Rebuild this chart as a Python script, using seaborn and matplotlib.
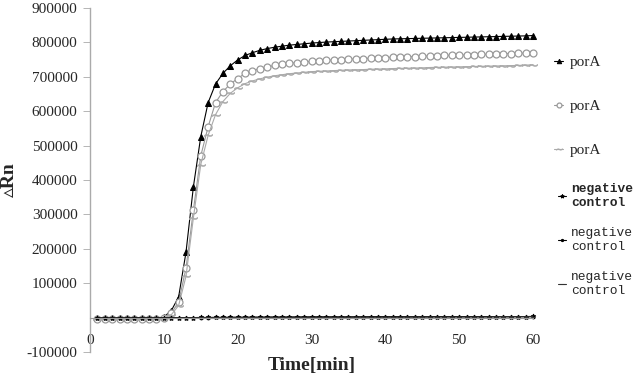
import matplotlib
matplotlib.use('Agg')
import matplotlib.pyplot as plt
import seaborn as sns
import pandas as pd

# Data (minutes 1..60, one cycle per minute)
minutes = list(range(1, 61))

pora_1 = [-2000, -2500, -2000, -2500, -2000, -2000, -2500, -2000, -1500, 2000,
          20000, 60000, 190000, 380000, 526000, 625000, 679000, 710000, 732000, 749000,
          762000, 770000, 777000, 782000, 786000, 789000, 792000, 794000, 796000, 798000,
          799500, 801000, 802000, 803000, 804000, 805000, 806000, 807000, 808000, 809000,
          810000, 810500, 811000, 811500, 812000, 812500, 813000, 813500, 814000, 814500,
          815000, 815500, 816000, 816500, 817000, 817500, 818000, 818500, 819000, 820000]

pora_2 = [-3000, -3000, -3500, -3000, -3000, -3500, -3000, -3000, -3000, -1000,
          12000, 46000, 143000, 312000, 470000, 555000, 625000, 657000, 679000, 695000,
          710000, 718000, 724000, 729000, 733000, 736000, 739000, 741000, 743000, 745000,
          746500, 748000, 749000, 750000, 751000, 752000, 753000, 754000, 755000, 756000,
          757000, 757500, 758000, 759000, 760000, 760500, 761000, 762000, 762500, 763000,
          763500, 764000, 765000, 765500, 766000, 767000, 767500, 768000, 769000, 770000]

pora_3 = [-4000, -4000, -3500, -4000, -4000, -3500, -4000, -4000, -3500, -2000,
          8000, 35000, 120000, 290000, 445000, 530000, 590000, 628000, 652000, 668000,
          680000, 688000, 694000, 699000, 703000, 706000, 709000, 711000, 713000, 715000,
          716000, 717000, 718000, 719000, 720000, 720500, 721000, 722000, 722500, 723000,
          724000, 724500, 725000, 725500, 726000, 727000, 727500, 728000, 728500, 729000,
          729500, 730000, 730500, 731000, 731500, 732000, 732500, 733000, 734000, 735000]

neg_1 = [-1000, -1000, -1500, -1000, -1000, -1000, -500, -1000, -500, -500,
         -500, 0, 0, 0, 500, 500, 500, 500, 1000, 1000,
         1000, 1000, 1000, 1500, 1500, 1500, 1500, 1500, 1500, 2000,
         2000, 2000, 2000, 2000, 2000, 2000, 2000, 2500, 2500, 2500,
         2500, 2500, 2500, 2500, 2500, 2500, 3000, 3000, 3000, 3000,
         3000, 3000, 3000, 3000, 3000, 3000, 3000, 3000, 3000, 3500]

neg_2 = [-1500, -1500, -1500, -1000, -1500, -1000, -1000, -1000, -1000, -500,
         -500, -500, 0, 0, 0, 0, 500, 500, 500, 500,
         500, 1000, 1000, 1000, 1000, 1000, 1000, 1500, 1500, 1500,
         1500, 1500, 1500, 1500, 1500, 2000, 2000, 2000, 2000, 2000,
         2000, 2000, 2000, 2000, 2000, 2500, 2500, 2500, 2500, 2500,
         2500, 2500, 2500, 2500, 2500, 2500, 2500, 3000, 3000, 3000]

neg_3 = [-2000, -2000, -1500, -1500, -1500, -1500, -1500, -1000, -1000, -1000,
         -1000, -500, -500, -500, 0, 0, 0, 0, 0, 500,
         500, 500, 500, 500, 500, 1000, 1000, 1000, 1000, 1000,
         1000, 1000, 1000, 1500, 1500, 1500, 1500, 1500, 1500, 1500,
         1500, 1500, 2000, 2000, 2000, 2000, 2000, 2000, 2000, 2000,
         2000, 2000, 2000, 2000, 2500, 2500, 2500, 2500, 2500, 2500]

x_ticks = [0, 10, 20, 30, 40, 50, 60]
y_ticks = [-100000, 100000, 200000, 300000, 400000, 500000, 600000, 700000, 800000, 900000]

sns.set_style('white')
plt.rcParams['font.family'] = ['Liberation Serif', 'DejaVu Sans']

fig = plt.figure(figsize=(6.38, 3.81), dpi=100)
ax = fig.add_axes([0.1411, 0.0761, 0.6943, 0.9029])

df = pd.DataFrame({'t': minutes, 'a': pora_1, 'b': pora_2, 'c': pora_3,
                   'n1': neg_1, 'n2': neg_2, 'n3': neg_3})

styles = [
    ('a', dict(color='black', lw=0.8, marker='^', markersize=4.5,
               markerfacecolor='black', markeredgecolor='black')),
    ('b', dict(color='#999999', lw=0.8, marker='o', markersize=5,
               markerfacecolor='white', markeredgecolor='#999999', markeredgewidth=0.9)),
    ('c', dict(color='#aaaaaa', lw=0.8, marker=r'$\sim$', markersize=6,
               markerfacecolor='#aaaaaa', markeredgecolor='#aaaaaa', markeredgewidth=0.4)),
    ('n1', dict(color='black', lw=0.8, marker='*', markersize=3.5,
                markerfacecolor='black', markeredgecolor='black')),
    ('n2', dict(color='black', lw=0.8, marker='o', markersize=2,
                markerfacecolor='black', markeredgecolor='black')),
    ('n3', dict(color='#333333', lw=0.8, marker='_', markersize=3,
                markeredgecolor='#333333')),
]

handles = []
for col, kw in styles:
    sns.lineplot(data=df, x='t', y=col, ax=ax, clip_on=False, **kw)
    handles.append(ax.lines[-1])

ax.set_xlim(0, 60)
ax.set_ylim(-100000, 900000)
ax.set_xticks(x_ticks)
ax.set_yticks(y_ticks)
ax.set_xticklabels([str(v) for v in x_ticks])
ax.set_yticklabels([str(v) for v in y_ticks])

for side in ['top', 'right']:
    ax.spines[side].set_visible(False)
ax.spines['bottom'].set_position(('data', 0))
ax.spines['bottom'].set_color('#999999')
ax.spines['left'].set_color('#aaaaaa')
ax.spines['bottom'].set_linewidth(0.8)
ax.spines['left'].set_linewidth(1.0)

ax.tick_params(axis='x', direction='inout', length=5, width=0.6, color='#999999',
               pad=9, labelsize=11)
ax.tick_params(axis='y', direction='out', length=5, width=0.6, color='#aaaaaa',
               pad=4, labelsize=11, left=True)

ax.set_xlabel('Time[min]', fontsize=14, fontweight='bold')
ax.set_ylabel('\u25b5Rn', fontsize=14, fontweight='bold',
              family=['Liberation Serif', 'DejaVu Sans'])
ax.xaxis.set_label_coords(0.5, -0.015)
ax.yaxis.set_label_coords(-0.163, 0.5)

leg1 = ax.legend(handles[:3], ['porA'] * 3, loc='upper left',
                 bbox_to_anchor=(0.847, 0.891), bbox_transform=fig.transFigure,
                 frameon=False, handlelength=0.6, handletextpad=0.4,
                 labelspacing=2.0, fontsize=11, markerscale=0.7)
ax.add_artist(leg1)
leg2 = ax.legend(handles[3:], ['negative\ncontrol'] * 3, loc='upper left',
                 bbox_to_anchor=(0.857, 0.55), bbox_transform=fig.transFigure,
                 frameon=False, handlelength=0.6, handletextpad=0.4,
                 labelspacing=1.4, fontsize=9.3, markerscale=0.8)
for i, t in enumerate(leg2.get_texts()):
    t.set_family('Liberation Mono')
    t.set_fontweight('bold' if i == 0 else 'normal')

fig.savefig('out.png', dpi=100)
